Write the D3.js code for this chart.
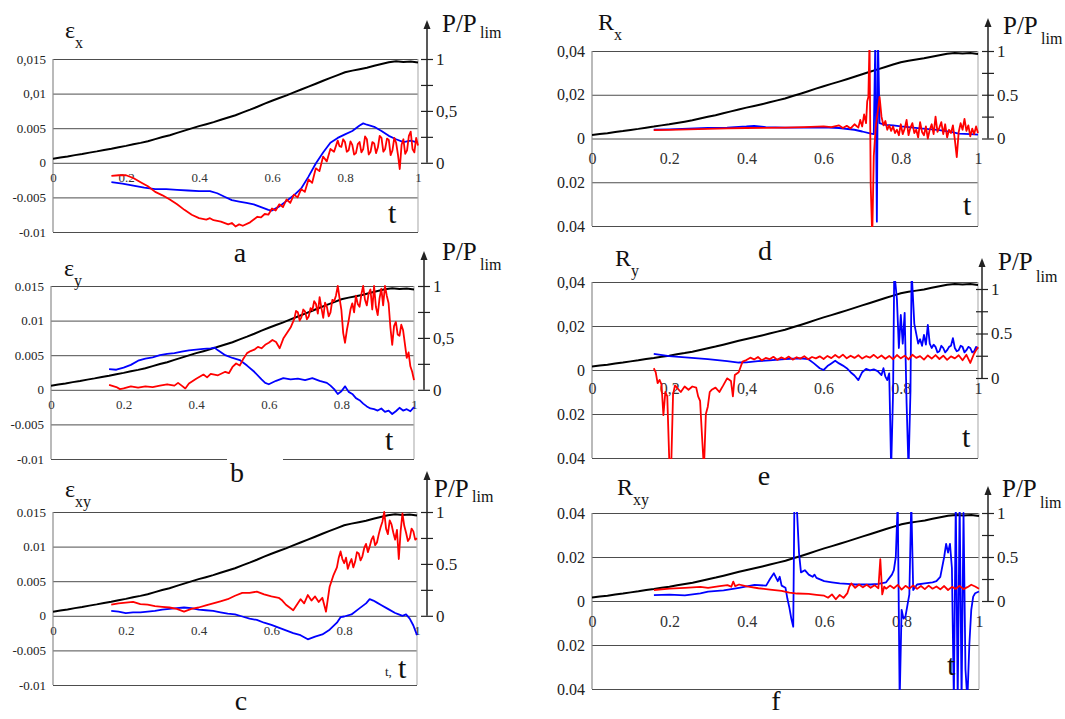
<!DOCTYPE html>
<html>
<head>
<meta charset="utf-8">
<script src="https://cdn.jsdelivr.net/npm/d3@7/dist/d3.min.js"></script>
<style>
  body { margin: 0; background: #fff; }
  svg { display: block; }
</style>
</head>
<body>
<div id="chart"></div>
<script>
// ---- data (strain / residual values in units of 1e-3, t = relative time) ----

// P/Plim load curve, same in every panel: [t, P/Plim]
const loadCurve = [
  [0, 0.040], [0.02, 0.052], [0.04, 0.060], [0.06, 0.074], [0.08, 0.085], [0.10, 0.098],
  [0.12, 0.110], [0.14, 0.124], [0.16, 0.136], [0.18, 0.150], [0.20, 0.163], [0.22, 0.178],
  [0.24, 0.192], [0.26, 0.208], [0.28, 0.228], [0.30, 0.248], [0.32, 0.266], [0.34, 0.288],
  [0.36, 0.310], [0.38, 0.332], [0.40, 0.353], [0.42, 0.372], [0.44, 0.392], [0.46, 0.414],
  [0.48, 0.436], [0.50, 0.458], [0.52, 0.486], [0.54, 0.512], [0.56, 0.540], [0.58, 0.570],
  [0.60, 0.598], [0.62, 0.624], [0.64, 0.650], [0.66, 0.678], [0.68, 0.706], [0.70, 0.734],
  [0.72, 0.762], [0.74, 0.790], [0.76, 0.818], [0.78, 0.845], [0.80, 0.872], [0.82, 0.888],
  [0.84, 0.902], [0.86, 0.916], [0.88, 0.935], [0.90, 0.952], [0.92, 0.968], [0.94, 0.978],
  [0.96, 0.972], [0.98, 0.976], [1.00, 0.966]
];

// a: eps_x
const blueA = [
  [0.16, -2.8], [0.19, -3.0], [0.22, -3.3], [0.25, -3.6], [0.28, -3.8], [0.31, -3.8], [0.34, -3.9],
  [0.37, -4.0], [0.40, -4.1], [0.43, -4.1], [0.45, -4.4], [0.47, -4.9], [0.49, -5.4], [0.51, -5.6],
  [0.53, -5.8], [0.55, -6.0], [0.57, -6.4], [0.59, -6.8], [0.60, -6.9], [0.62, -6.3], [0.64, -5.5],
  [0.66, -4.7], [0.68, -3.7], [0.70, -2.0], [0.72, -0.1], [0.74, 1.5], [0.76, 2.9], [0.78, 3.6],
  [0.80, 4.1], [0.82, 4.6], [0.84, 5.4], [0.85, 5.7], [0.86, 5.5], [0.88, 5.2], [0.90, 4.6],
  [0.92, 3.9], [0.94, 3.4], [0.96, 3.0], [0.98, 3.2], [1.0, 2.9]
];
const redA = [
  [0.16, -1.9], [0.18, -1.8], [0.20, -1.8], [0.22, -2.2], [0.24, -2.8], [0.26, -3.4], [0.28, -4.2],
  [0.30, -4.7], [0.32, -5.3], [0.34, -6.0], [0.36, -6.8], [0.38, -7.5], [0.40, -8.0], [0.42, -8.2],
  [0.43, -8.0], [0.44, -8.3], [0.46, -8.5], [0.48, -8.9], [0.49, -8.7], [0.50, -9.2], [0.51, -8.9],
  [0.52, -9.1], [0.54, -8.6], [0.55, -8.2], [0.56, -7.8], [0.57, -7.9], [0.58, -7.4], [0.59, -7.5],
  [0.60, -6.6], [0.61, -6.9], [0.62, -6.0], [0.63, -6.4], [0.64, -5.3], [0.65, -5.8], [0.66, -4.6],
  [0.67, -5.0], [0.68, -3.8], [0.69, -4.2], [0.70, -2.4], [0.71, -2.9], [0.72, -0.8], [0.73, -1.2],
  [0.74, 0.9], [0.75, 0.2], [0.76, 2.0], [0.77, 1.6], [0.78, 3.2], [0.785, 2.4], [0.79, 2.3],
  [0.795, 3.4], [0.80, 3.0], [0.805, 1.6], [0.81, 1.8], [0.815, 3.1], [0.82, 2.6], [0.825, 1.2],
  [0.83, 1.4], [0.835, 2.7], [0.84, 3.0], [0.845, 1.5], [0.85, 2.0], [0.855, 3.8], [0.86, 3.4],
  [0.865, 1.2], [0.87, 1.6], [0.875, 3.0], [0.88, 2.8], [0.885, 1.4], [0.89, 2.2], [0.895, 3.9],
  [0.90, 3.6], [0.905, 1.6], [0.91, 2.0], [0.915, 3.5], [0.92, 3.3], [0.925, 1.1], [0.93, 1.8],
  [0.935, 3.6], [0.94, 2.9], [0.945, 1.2], [0.95, -0.9], [0.955, 2.6], [0.96, 3.4], [0.965, 1.3],
  [0.97, 1.8], [0.975, 3.9], [0.98, 4.5], [0.985, 2.0], [0.99, 1.5], [0.995, 3.6], [1.0, 2.5]
];

// b: eps_y
const blueB = [
  [0.16, 3.0], [0.18, 2.9], [0.20, 3.2], [0.22, 3.6], [0.24, 4.2], [0.26, 4.5], [0.28, 4.7],
  [0.30, 5.0], [0.32, 5.2], [0.34, 5.3], [0.36, 5.5], [0.38, 5.7], [0.40, 5.8], [0.42, 5.9],
  [0.44, 6.0], [0.45, 6.1], [0.46, 5.7], [0.48, 5.0], [0.50, 4.6], [0.52, 4.3], [0.54, 3.5],
  [0.56, 2.6], [0.58, 1.5], [0.59, 1.0], [0.60, 0.8], [0.62, 1.3], [0.64, 1.7], [0.66, 1.5],
  [0.68, 1.6], [0.70, 1.4], [0.72, 1.7], [0.74, 1.3], [0.76, 1.0], [0.77, 0.6], [0.78, 0.1],
  [0.79, -0.6], [0.80, -0.2], [0.81, 0.5], [0.82, -0.3], [0.83, -0.6], [0.84, -1.2], [0.85, -1.5],
  [0.86, -2.0], [0.87, -2.4], [0.88, -2.7], [0.89, -2.8], [0.90, -3.0], [0.91, -2.7], [0.92, -3.2],
  [0.93, -3.0], [0.94, -3.5], [0.95, -3.1], [0.96, -2.6], [0.97, -3.0], [0.98, -2.8], [0.99, -3.1],
  [1.0, -2.5]
];
const redB = [
  [0.16, 0.7], [0.18, 0.4], [0.19, 0.1], [0.20, 0.2], [0.22, 0.5], [0.24, 0.3], [0.26, 0.5],
  [0.28, 0.4], [0.30, 0.6], [0.32, 0.8], [0.34, 0.6], [0.35, 1.0], [0.36, 0.6], [0.37, 0.2],
  [0.38, 0.9], [0.40, 1.6], [0.42, 2.2], [0.43, 1.8], [0.44, 2.3], [0.46, 2.1], [0.48, 2.6],
  [0.49, 2.4], [0.50, 3.3], [0.51, 3.8], [0.52, 3.5], [0.53, 4.5], [0.54, 5.3], [0.55, 5.6],
  [0.56, 5.8], [0.57, 6.2], [0.58, 6.0], [0.59, 6.5], [0.60, 6.8], [0.61, 7.2], [0.62, 6.9],
  [0.63, 6.0], [0.64, 7.4], [0.65, 8.2], [0.66, 9.0], [0.67, 10.2], [0.675, 11.4], [0.68, 11.2],
  [0.685, 10.0], [0.69, 10.5], [0.695, 11.6], [0.70, 11.3], [0.705, 10.2], [0.71, 10.6], [0.715, 11.8],
  [0.72, 11.5], [0.725, 12.8], [0.73, 12.4], [0.735, 11.0], [0.74, 13.4], [0.745, 11.8], [0.75, 10.4],
  [0.755, 12.6], [0.76, 12.0], [0.765, 10.6], [0.77, 11.2], [0.775, 13.0], [0.78, 12.8], [0.785, 13.6],
  [0.79, 15.0], [0.795, 13.2], [0.80, 11.5], [0.805, 8.2], [0.81, 6.8], [0.815, 8.6], [0.82, 10.0],
  [0.825, 11.6], [0.83, 12.5], [0.835, 11.2], [0.84, 13.6], [0.845, 12.4], [0.85, 12.0], [0.855, 13.8],
  [0.86, 15.0], [0.865, 13.0], [0.87, 12.2], [0.875, 13.9], [0.88, 14.5], [0.885, 11.6], [0.89, 15.0],
  [0.895, 12.0], [0.90, 10.8], [0.905, 13.2], [0.91, 14.6], [0.915, 12.2], [0.92, 15.0], [0.925, 13.6],
  [0.93, 12.5], [0.935, 9.0], [0.94, 6.5], [0.945, 9.2], [0.95, 9.8], [0.955, 8.0], [0.96, 7.8],
  [0.965, 9.4], [0.97, 8.6], [0.975, 6.6], [0.98, 4.6], [0.985, 5.4], [0.99, 3.4], [0.995, 2.6], [1.0, 1.4]
];

// c: eps_xy
const blueC = [
  [0.16, 0.7], [0.18, 0.6], [0.20, 0.4], [0.22, 0.5], [0.24, 0.5], [0.26, 0.6], [0.28, 0.7],
  [0.30, 0.9], [0.32, 1.0], [0.34, 1.1], [0.36, 1.2], [0.38, 1.1], [0.40, 0.9], [0.42, 0.8],
  [0.44, 0.7], [0.46, 0.5], [0.48, 0.3], [0.50, 0.2], [0.52, -0.1], [0.54, -0.4], [0.56, -0.6],
  [0.58, -1.0], [0.60, -1.3], [0.62, -1.7], [0.64, -2.1], [0.66, -2.5], [0.68, -2.8], [0.70, -3.4],
  [0.72, -3.0], [0.74, -2.7], [0.76, -2.0], [0.78, -1.0], [0.79, -0.2], [0.80, -0.1], [0.82, 0.2],
  [0.84, 1.0], [0.86, 1.8], [0.87, 2.4], [0.88, 2.2], [0.89, 1.9], [0.90, 1.6], [0.92, 1.0],
  [0.94, 0.4], [0.95, 0.2], [0.96, 0.0], [0.97, 0.2], [0.98, -0.4], [0.99, -1.4], [1.0, -2.8]
];
const redC = [
  [0.16, 1.6], [0.18, 1.8], [0.20, 1.9], [0.22, 2.0], [0.24, 1.7], [0.26, 1.6], [0.28, 1.4],
  [0.30, 1.3], [0.32, 1.2], [0.34, 1.0], [0.36, 0.6], [0.38, 1.0], [0.40, 1.2], [0.42, 1.5],
  [0.44, 1.8], [0.46, 2.1], [0.48, 2.4], [0.50, 2.9], [0.52, 3.3], [0.54, 3.3], [0.56, 3.5],
  [0.58, 3.1], [0.60, 2.8], [0.62, 2.6], [0.63, 2.2], [0.64, 1.6], [0.65, 1.2], [0.66, 0.8],
  [0.67, 1.6], [0.68, 2.4], [0.69, 1.8], [0.70, 3.0], [0.71, 2.2], [0.72, 2.8], [0.73, 2.0],
  [0.74, 2.6], [0.75, 0.6], [0.76, 4.2], [0.77, 5.8], [0.78, 7.0], [0.785, 8.4], [0.79, 9.3],
  [0.795, 8.2], [0.80, 7.6], [0.805, 8.4], [0.81, 6.8], [0.815, 7.6], [0.82, 8.2], [0.825, 7.0],
  [0.83, 7.8], [0.835, 9.2], [0.84, 9.0], [0.845, 8.0], [0.85, 8.6], [0.855, 9.8], [0.86, 10.4],
  [0.865, 9.2], [0.87, 10.0], [0.875, 11.0], [0.88, 11.5], [0.885, 10.2], [0.89, 10.6], [0.895, 11.8],
  [0.90, 12.8], [0.905, 13.6], [0.91, 15.0], [0.915, 12.6], [0.92, 11.8], [0.925, 13.8], [0.93, 13.2],
  [0.935, 12.0], [0.94, 11.0], [0.945, 12.4], [0.95, 8.2], [0.955, 12.2], [0.96, 14.8], [0.965, 13.0],
  [0.97, 12.0], [0.975, 10.8], [0.98, 11.2], [0.985, 12.6], [0.99, 12.2], [0.995, 11.0], [1.0, 11.2]
];

// d: R_x
const blueD = [
  [0.16, 4.1], [0.20, 4.2], [0.25, 4.5], [0.30, 4.8], [0.35, 5.0], [0.40, 5.5], [0.42, 5.8],
  [0.45, 5.2], [0.50, 5.0], [0.55, 5.0], [0.60, 5.1], [0.64, 4.8], [0.68, 4.0], [0.70, 3.2],
  [0.72, 2.3], [0.73, 2.0], [0.734, 45], [0.738, -38], [0.741, 45], [0.745, 7.0], [0.76, 6.2],
  [0.78, 6.0], [0.80, 5.5], [0.82, 5.2], [0.85, 4.6], [0.88, 4.2], [0.90, 3.8], [0.93, 3.0],
  [0.95, 2.2], [0.98, 2.0], [1.0, 1.8]
];
const redD = [
  [0.16, 3.8], [0.20, 3.9], [0.25, 4.2], [0.30, 4.4], [0.35, 4.6], [0.40, 4.8], [0.45, 4.9],
  [0.50, 5.0], [0.55, 5.2], [0.60, 5.5], [0.62, 5.2], [0.64, 6.0], [0.65, 4.8], [0.66, 5.8],
  [0.67, 4.6], [0.68, 6.5], [0.69, 5.0], [0.695, 8.5], [0.70, 5.5], [0.705, 11], [0.71, 7],
  [0.713, 17], [0.716, 19], [0.719, 45], [0.722, -21], [0.726, -45], [0.73, -8], [0.735, 5],
  [0.74, 12], [0.745, 19], [0.75, 10], [0.755, 6], [0.76, 8], [0.765, 4], [0.77, 6], [0.775, 3.5],
  [0.78, 5.5], [0.785, 2.5], [0.79, 4], [0.795, 1.5], [0.80, 6.5], [0.805, 2], [0.81, 4.5],
  [0.815, 8.5], [0.82, 1.5], [0.825, 5], [0.83, 7], [0.835, 2.5], [0.84, 4], [0.845, 0.5],
  [0.85, 7.5], [0.855, 3], [0.86, 1.5], [0.865, 5.5], [0.87, 0], [0.875, 4], [0.88, 6.5],
  [0.885, 2], [0.89, 10], [0.895, 3], [0.90, 5], [0.905, 7.5], [0.91, 2], [0.915, 6.5], [0.92, 0.5],
  [0.925, 4], [0.93, 2.5], [0.935, 6], [0.94, -0.5], [0.945, -8.5], [0.95, 3], [0.955, 7], [0.96, 4],
  [0.965, 9], [0.97, 3.5], [0.975, 6], [0.98, 1], [0.985, 4.5], [0.99, 2], [0.995, 5.5], [1.0, 2.5]
];

// e: R_y
const blueE = [
  [0.16, 7.3], [0.20, 6.3], [0.25, 5.6], [0.30, 4.9], [0.35, 4.0], [0.38, 3.4], [0.40, 3.5],
  [0.43, 4.0], [0.46, 4.4], [0.50, 5.0], [0.54, 5.3], [0.56, 5.0], [0.575, 3.0], [0.59, 0.8],
  [0.60, 0], [0.61, 1.8], [0.62, 3.0], [0.63, 4.2], [0.64, 3.0], [0.65, 2.0], [0.66, 0.8],
  [0.67, -1.0], [0.68, -2.5], [0.69, -4.6], [0.70, -1.0], [0.71, 0.5], [0.72, -0.2], [0.73, 0.3],
  [0.74, -0.5], [0.75, -2.3], [0.755, 0.8], [0.76, -3.0], [0.765, -4.6], [0.77, -1.5],
  [0.775, -45], [0.78, -10], [0.783, 45], [0.79, 32], [0.795, 10], [0.80, 25], [0.805, 12],
  [0.81, 26], [0.815, -15], [0.82, -45], [0.825, -10], [0.828, 45], [0.835, 21], [0.845, 12],
  [0.85, 14], [0.855, 11], [0.86, 16], [0.865, 11.5], [0.87, 20.5], [0.875, 12], [0.88, 10],
  [0.885, 11.5], [0.89, 10.5], [0.895, 8], [0.90, 8.5], [0.905, 11], [0.91, 10], [0.915, 8],
  [0.92, 9], [0.925, 10.5], [0.93, 11], [0.935, 14.5], [0.94, 10], [0.945, 8.5], [0.95, 9],
  [0.955, 11], [0.96, 10.5], [0.965, 8], [0.97, 9], [0.975, 10.5], [0.98, 10], [0.985, 8],
  [0.99, 8.5], [0.995, 10.5], [1.0, 9.5]
];
const redE = [
  [0.16, 0.8], [0.165, -1], [0.17, -6], [0.175, -4.5], [0.18, -6.5], [0.185, -20.5], [0.19, -10],
  [0.195, -12], [0.20, -40], [0.205, -45], [0.21, -11], [0.215, -7], [0.22, -8], [0.23, -10],
  [0.24, -7.5], [0.25, -9], [0.26, -7.5], [0.27, -8], [0.275, -12], [0.28, -14], [0.285, -30],
  [0.29, -45], [0.295, -20], [0.30, -16.7], [0.305, -10], [0.31, -9], [0.32, -8], [0.33, -10],
  [0.34, -7], [0.35, -3.8], [0.36, -5], [0.365, -12], [0.37, -2.3], [0.38, -1], [0.39, 3.8],
  [0.40, 4.5], [0.41, 5.6], [0.42, 4.8], [0.43, 5.9], [0.44, 4.4], [0.45, 5.5], [0.46, 4.9],
  [0.47, 6.0], [0.48, 4.6], [0.49, 5.7], [0.50, 5.0], [0.51, 6.1], [0.52, 4.7], [0.53, 5.8],
  [0.54, 5.2], [0.55, 6.3], [0.56, 4.9], [0.57, 5.9], [0.58, 5.3], [0.59, 6.2], [0.60, 5.0],
  [0.61, 6.4], [0.62, 5.4], [0.63, 6.8], [0.64, 5.6], [0.65, 7.0], [0.66, 5.3], [0.67, 6.5],
  [0.68, 5.5], [0.69, 6.7], [0.70, 5.2], [0.71, 6.3], [0.72, 5.6], [0.73, 6.9], [0.74, 5.4],
  [0.75, 6.6], [0.76, 5.1], [0.77, 6.4], [0.78, 4.9], [0.79, 6.8], [0.80, 5.3], [0.81, 6.5],
  [0.82, 4.8], [0.83, 6.9], [0.84, 5.5], [0.85, 6.3], [0.86, 4.7], [0.87, 6.6], [0.88, 5.2],
  [0.89, 6.8], [0.90, 5.0], [0.91, 6.5], [0.92, 4.6], [0.93, 6.2], [0.94, 5.3], [0.95, 6.7],
  [0.96, 4.4], [0.97, 6.9], [0.98, 3.2], [0.99, 7.5], [1.0, 10.5]
];

// f: R_xy
const blueF = [
  [0.16, 2.7], [0.20, 2.9], [0.24, 2.6], [0.28, 3.5], [0.30, 4.3], [0.34, 4.8], [0.38, 6.0],
  [0.42, 7.3], [0.45, 7.0], [0.46, 10], [0.47, 12.6], [0.48, 9], [0.485, 11], [0.49, 7], [0.50, 6],
  [0.505, 1], [0.51, -3], [0.515, -8], [0.52, -11.7], [0.523, 45], [0.53, 40], [0.535, 21.7],
  [0.54, 13], [0.55, 14], [0.56, 12], [0.57, 11], [0.575, 12], [0.58, 10.5], [0.60, 9.0],
  [0.62, 8.5], [0.64, 8.0], [0.66, 7.8], [0.68, 7.5], [0.70, 7.6], [0.72, 7.5], [0.74, 7.8],
  [0.76, 8.5], [0.775, 12], [0.78, 14], [0.785, 20], [0.79, 45], [0.795, -45], [0.80, -4],
  [0.805, -8], [0.81, -7], [0.815, -2], [0.82, 3], [0.825, 45], [0.83, 5], [0.84, 7.5], [0.86, 8],
  [0.88, 8.5], [0.89, 9], [0.90, 11], [0.91, 20], [0.915, 26], [0.92, 22], [0.925, 26], [0.93, 15],
  [0.935, -45], [0.94, 45], [0.945, -45], [0.95, 45], [0.955, -45], [0.96, 40], [0.965, -31],
  [0.97, -45], [0.975, -20], [0.98, -4], [0.985, 2], [0.99, 3.5], [1.0, 4.3]
];
const redF = [
  [0.16, 5.0], [0.20, 5.6], [0.24, 6.0], [0.28, 6.4], [0.30, 6.0], [0.33, 6.8], [0.35, 7.2],
  [0.36, 6.5], [0.365, 8.8], [0.37, 6.8], [0.38, 7.5], [0.40, 6.6], [0.43, 5.8], [0.46, 5.2],
  [0.49, 4.6], [0.51, 3.8], [0.53, 3.4], [0.56, 3.2], [0.58, 2.8], [0.60, 2.4], [0.61, 1.5],
  [0.62, 3.0], [0.63, 0.8], [0.64, 2.8], [0.65, 1.4], [0.66, 3.6], [0.665, 6.5], [0.67, 8.0],
  [0.68, 6.0], [0.69, 7.5], [0.70, 6.2], [0.71, 7.4], [0.72, 6.0], [0.73, 7.2], [0.74, 5.8],
  [0.745, 19], [0.75, 3.0], [0.755, 6.5], [0.76, 5.6], [0.77, 7.0], [0.78, 5.8], [0.79, 7.3],
  [0.80, 5.2], [0.81, 6.9], [0.82, 5.7], [0.83, 7.1], [0.84, 5.5], [0.85, 6.8], [0.86, 5.4],
  [0.87, 7.0], [0.88, 5.6], [0.89, 6.6], [0.90, 5.3], [0.91, 6.8], [0.92, 5.0], [0.93, 6.4],
  [0.94, 5.5], [0.95, 6.9], [0.96, 5.4], [0.97, 6.3], [0.98, 7.4], [0.99, 6.6], [1.0, 5.6]
];

// ---- ticks and labels ----
const epsTicks = [15, 10, 5, 0, -5, -10];
const epsLabelsA = ["0,015", "0,01", "0.005", "0", "-0.005", "-0.01"];
const epsLabels = ["0.015", "0.01", "0.005", "0", "-0.005", "-0.01"];
const rTicks = [40, 20, 0, -20, -40];
const rLabelsDE = ["0,04", "0,02", "0", "0.02", "0.04"];
const rLabelsF = ["0.04", "0.02", "0", "0.02", "0.04"];
const tTicks = [0, 0.2, 0.4, 0.6, 0.8, 1];
const tLabels = ["0", "0.2", "0.4", "0.6", "0.8", "1"];
const tLabelsE = ["0", "0,2", "0,4", "0.6", "0.8", "1"];
const pTicks = [0, 0.25, 0.5, 0.75, 1];
const pLabelsComma = ["0", "", "0,5", "", "1"];
const pLabelsDot = ["0", "", "0.5", "", "1"];

// ---- panel layout ----
const panels = [
  { blue: blueA, red: redA, dom: [-10, 15], yt: epsTicks, yl: epsLabelsA, xl: tLabels, pl: pLabelsComma,
    l: 53, r: 418, top: 59, bot: 232, ax: 427, axTop: 20, ax0: null, ax1: null, fs: 13, xfs: 13, xdy: 19,
    title: ["ε", "x"], tx: 65, ty: 38, letter: "a", lx: 240, ly: 262, tl: [388, 223], pp: [442, 32, 38] },
  { blue: blueB, red: redB, dom: [-10, 15], yt: epsTicks, yl: epsLabels, xl: tLabels, pl: pLabelsComma,
    l: 51, r: 414, top: 286, bot: 459, ax: 424, axTop: 251, ax0: null, ax1: null, fs: 13, xfs: 13, xdy: 19,
    title: ["ε", "y"], tx: 64, ty: 276, letter: "b", lx: 237, ly: 482, tl: [385, 450], pp: [442, 260, 270],
    gap: [227, 283] },
  { blue: blueC, red: redC, dom: [-10, 15], yt: epsTicks, yl: epsLabels, xl: tLabels, pl: pLabelsDot,
    l: 53, r: 417, top: 512, bot: 685, ax: 427, axTop: 471, ax0: null, ax1: null, fs: 13, xfs: 13, xdy: 19,
    title: ["ε", "xy"], tx: 65, ty: 497, letter: "c", lx: 241, ly: 710, tl: [398, 678], pp: [434, 497, 502],
    smallT: true },
  { blue: blueD, red: redD, dom: [-40, 40], yt: rTicks, yl: rLabelsDE, xl: tLabels, pl: pLabelsDot,
    l: 592, r: 978, top: 51, bot: 226, ax: 988, axTop: 18, ax0: null, ax1: null, fs: 16, xfs: 16, xdy: 25,
    title: ["R", "x"], tx: 598, ty: 30, letter: "d", lx: 765, ly: 260, tl: [963, 215], pp: [1003, 34, 44] },
  { blue: blueE, red: redE, dom: [-40, 40], yt: rTicks, yl: rLabelsDE, xl: tLabelsE, pl: pLabelsDot,
    l: 592, r: 978, top: 282, bot: 458, ax: 982, axTop: 258, ax0: 378, ax1: 289, fs: 16, xfs: 16, xdy: 24,
    title: ["R", "y"], tx: 615, ty: 266, letter: "e", lx: 764, ly: 485, tl: [962, 447], pp: [998, 270, 282] },
  { blue: blueF, red: redF, dom: [-40, 40], yt: rTicks, yl: rLabelsF, xl: tLabels, pl: pLabelsDot,
    l: 592, r: 979, top: 513, bot: 689, ax: 988, axTop: 486, ax0: null, ax1: null, fs: 16, xfs: 16, xdy: 26,
    title: ["R", "xy"], tx: 617, ty: 495, letter: "f", lx: 776, ly: 710, tl: [947, 675], pp: [1002, 497, 508] }
];

const serif = "Liberation Serif";

const svg = d3.select("#chart").append("svg")
  .attr("width", 1065).attr("height", 719)
  .attr("font-family", serif);

function label(g, x, y, size, txt, fill) {
  return g.append("text").attr("x", x).attr("y", y)
    .attr("font-family", serif).attr("font-size", size)
    .attr("fill", fill || "#111").text(txt);
}

panels.forEach((p, i) => {
  const x = d3.scaleLinear().domain([0, 1]).range([p.l, p.r]);
  const y = d3.scaleLinear().domain(p.dom).range([p.bot, p.top]);
  const yLoad = d3.scaleLinear().domain([0, 1]).range([y(0), p.top]);
  const yAx = d3.scaleLinear().domain([0, 1]).range([p.ax0 ?? y(0), p.ax1 ?? p.top]);
  const g = svg.append("g");

  // horizontal grid
  g.append("g")
    .attr("transform", `translate(${p.l},0)`)
    .call(d3.axisLeft(y).tickValues(p.yt).tickSize(-(p.r - p.l)).tickFormat(""))
    .call(s => s.select(".domain").remove())
    .selectAll("line").attr("stroke", "#4d4d4d").attr("stroke-width", 1);

  // left axis line and right border
  g.append("line").attr("x1", p.l).attr("x2", p.l).attr("y1", p.top).attr("y2", p.bot)
    .attr("stroke", "#8c8c8c").attr("stroke-width", 1.2);
  g.append("line").attr("x1", p.r).attr("x2", p.r).attr("y1", p.top).attr("y2", p.bot)
    .attr("stroke", "#b5b5b5").attr("stroke-width", 1.2);

  if (p.gap) {
    g.append("rect").attr("x", p.gap[0]).attr("y", p.bot - 3).attr("width", p.gap[1] - p.gap[0])
      .attr("height", 6).attr("fill", "#fff");
  }

  // left tick labels
  g.append("g")
    .attr("transform", `translate(${p.l - 7},0)`)
    .call(d3.axisLeft(y).tickValues(p.yt).tickSize(0).tickPadding(0).tickFormat((d, j) => p.yl[j]))
    .call(s => s.select(".domain").remove())
    .attr("font-family", serif).attr("font-size", p.fs)
    .selectAll("text").attr("fill", "#222");

  // t tick labels just under the zero line
  g.append("g")
    .attr("transform", `translate(0,${y(0) + p.xdy})`)
    .call(d3.axisBottom(x).tickValues(tTicks).tickSize(0).tickFormat((d, j) => p.xl[j]))
    .call(s => s.select(".domain").remove())
    .attr("font-family", serif).attr("font-size", p.xfs)
    .selectAll("text").attr("y", 0).attr("dy", 0).attr("fill", "#333");

  // series
  const clipId = "clip" + i;
  svg.append("clipPath").attr("id", clipId).append("rect")
    .attr("x", p.l).attr("y", p.top - 1).attr("width", p.r - p.l + 1).attr("height", p.bot - p.top + 2);
  const plot = g.append("g").attr("clip-path", `url(#${clipId})`);
  const line = d3.line().x(d => x(d[0])).y(d => y(d[1]));

  plot.append("path").datum(loadCurve)
    .attr("d", d3.line().x(d => x(d[0])).y(d => yLoad(d[1])))
    .attr("fill", "none").attr("stroke", "#000").attr("stroke-width", 2);
  plot.append("path").datum(p.blue).attr("d", line)
    .attr("fill", "none").attr("stroke", "#0000ff").attr("stroke-width", 1.8).attr("stroke-linejoin", "round");
  plot.append("path").datum(p.red).attr("d", line)
    .attr("fill", "none").attr("stroke", "#ff0000").attr("stroke-width", 1.8).attr("stroke-linejoin", "round");

  // right P/Plim axis with arrow
  const ra = g.append("g")
    .attr("transform", `translate(${p.ax},0)`)
    .call(d3.axisRight(yAx).tickValues(pTicks).tickSize(6).tickPadding(3).tickFormat((d, j) => p.pl[j]))
    .call(s => s.select(".domain").remove())
    .attr("font-family", serif).attr("font-size", 17);
  ra.selectAll(".tick line").attr("x1", -6).attr("stroke", "#222").attr("stroke-width", 1.2);
  ra.selectAll("text").attr("fill", "#222");
  g.append("line").attr("x1", p.ax).attr("x2", p.ax).attr("y1", yAx(0)).attr("y2", p.axTop + 6)
    .attr("stroke", "#222").attr("stroke-width", 1.5);
  g.append("path")
    .attr("d", `M${p.ax},${p.axTop} L${p.ax - 3.5},${p.axTop + 9} L${p.ax + 3.5},${p.axTop + 9} Z`)
    .attr("fill", "#222");

  // P/Plim label
  label(g, p.pp[0], p.pp[1], 25, "P/P");
  label(g, p.pp[0] + 38, p.pp[2], 16, "lim");

  // panel title (eps / R with subscript)
  label(g, p.tx, p.ty, 24, p.title[0]);
  label(g, p.tx + (p.title[0] === "R" ? 16 : 10), p.ty + 10, 16, p.title[1]);

  // t label
  if (p.smallT) label(g, p.tl[0] - 13, p.tl[1] - 2, 13, "t,", "#222");
  label(g, p.tl[0], p.tl[1], 30, "t");

  // panel letter
  label(g, p.lx, p.ly, 28, p.letter).attr("text-anchor", "middle");
});
</script>
</body>
</html>
